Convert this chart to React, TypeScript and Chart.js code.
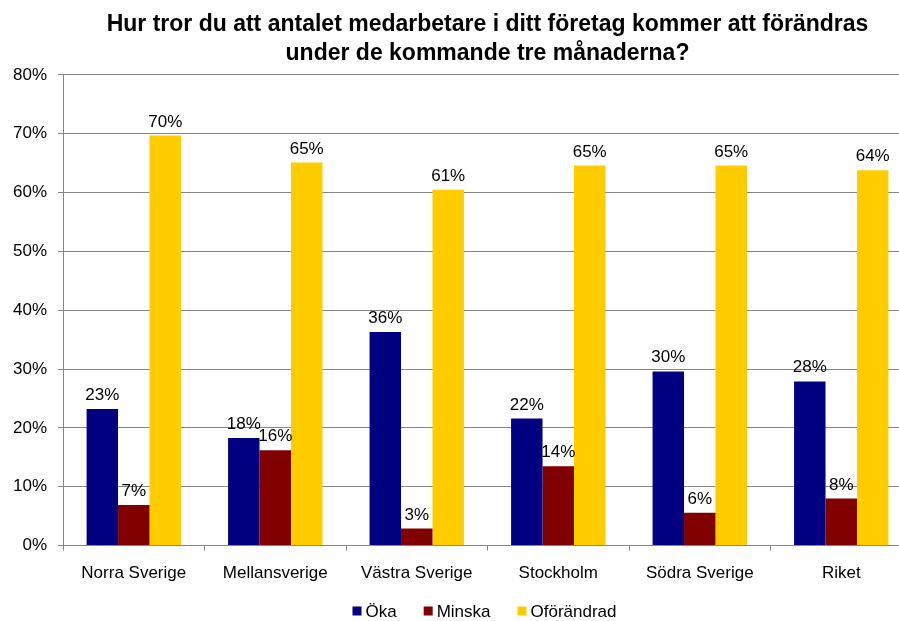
import React, { useEffect, useRef } from "react";
import { Chart, registerables } from "chart.js";

Chart.register(...registerables);

const categories = ["Norra Sverige", "Mellansverige", "Västra Sverige", "Stockholm", "Södra Sverige", "Riket"];
const okaValues = [23.2, 18.3, 36.3, 21.6, 29.6, 27.9];
const minskaValues = [6.9, 16.2, 2.9, 13.5, 5.6, 8.0];
const oforandradValues = [69.7, 65.1, 60.5, 64.6, 64.6, 63.8];
const seriesNames = ["Öka", "Minska", "Oförändrad"];
const seriesColors = ["#000080", "#800000", "#FFCC00"];
const yTicks = [0, 10, 20, 30, 40, 50, 60, 70, 80];
const titleLines = [
  "Hur tror du att antalet medarbetare i ditt företag kommer att förändras",
  "under de kommande tre månaderna?",
];

const FONT = "'Liberation Sans', Arial, sans-serif";

const dataLabelPlugin = {
  id: "dataLabels",
  afterDatasetsDraw(chart: any) {
    const ctx = chart.ctx;
    ctx.save();
    ctx.font = `17px ${FONT}`;
    ctx.fillStyle = "#000";
    ctx.textAlign = "center";
    ctx.textBaseline = "alphabetic";
    chart.data.datasets.forEach((ds: any, di: number) => {
      const meta = chart.getDatasetMeta(di);
      meta.data.forEach((bar: any, i: number) => {
        const v = ds.data[i];
        ctx.fillText(Math.round(v) + "%", bar.x, bar.y - 9);
      });
    });
    ctx.restore();
  },
};

const customLegendPlugin = {
  id: "customLegend",
  afterDraw(chart: any) {
    const ctx = chart.ctx;
    ctx.save();
    ctx.font = `17px ${FONT}`;
    const box = 9;
    const gap = 4;
    const itemGap = 27;
    const items = chart.data.datasets.map((ds: any) => ({
      label: ds.label,
      color: ds.backgroundColor,
      w: box + gap + ctx.measureText(ds.label).width,
    }));
    const total = items.reduce((s: number, it: any) => s + it.w, 0) + itemGap * (items.length - 1);
    const ca = chart.chartArea;
    let x = (ca.left + ca.right) / 2 - 3 - total / 2;
    const y = chart.height - 10;
    ctx.textBaseline = "middle";
    ctx.textAlign = "left";
    items.forEach((it: any) => {
      ctx.fillStyle = it.color;
      ctx.fillRect(x, y - box / 2, box, box);
      ctx.fillStyle = "#000";
      ctx.fillText(it.label, x + box + gap, y + 1);
      x += it.w + itemGap;
    });
    ctx.restore();
  },
};

export default function App() {
  const canvasRef = useRef<HTMLCanvasElement>(null);

  useEffect(() => {
    if (!canvasRef.current) return;
    const values = [okaValues, minskaValues, oforandradValues];
    const chart = new Chart(canvasRef.current, {
      type: "bar",
      data: {
        labels: categories,
        datasets: seriesNames.map((name, i) => ({
          label: name,
          data: values[i],
          backgroundColor: seriesColors[i],
          borderWidth: 0,
          categoryPercentage: 0.667,
          barPercentage: 1.0,
        })),
      },
      options: {
        responsive: false,
        animation: false,
        layout: { padding: { left: 2, right: 3, top: 0, bottom: 24 } },
        plugins: {
          legend: { display: false },
          tooltip: { enabled: false },
          title: {
            display: true,
            text: titleLines,
            fullSize: false,
            color: "#000",
            font: { family: FONT, size: 23, weight: "bold", lineHeight: 1.26 },
            padding: { top: 10, bottom: 7 },
          },
        },
        scales: {
          x: {
            grid: {
              offset: true,
              drawOnChartArea: false,
              drawTicks: true,
              tickLength: 5,
              color: "#868686",
            },
            border: { display: true, color: "#868686" },
            ticks: {
              color: "#000",
              padding: 13,
              font: { family: FONT, size: 17 },
              maxRotation: 0,
              autoSkip: false,
            },
          },
          y: {
            min: 0,
            max: 80,
            afterBuildTicks: (axis: any) => {
              axis.ticks = yTicks.map((v) => ({ value: v }));
            },
            grid: { color: "#868686", tickLength: 5 },
            border: { display: true, color: "#868686" },
            ticks: {
              color: "#000",
              padding: 11,
              font: { family: FONT, size: 17 },
              callback: (v: any) => v + "%",
            },
          },
        },
      },
      plugins: [dataLabelPlugin, customLegendPlugin],
    });
    return () => chart.destroy();
  }, []);

  return (
    <div style={{ position: "absolute", left: 0, top: 0, width: 899, height: 621, overflow: "hidden", background: "#fff" }}>
      <canvas ref={canvasRef} width={915} height={621} style={{ width: 915, height: 621, display: "block" }} />
    </div>
  );
}
